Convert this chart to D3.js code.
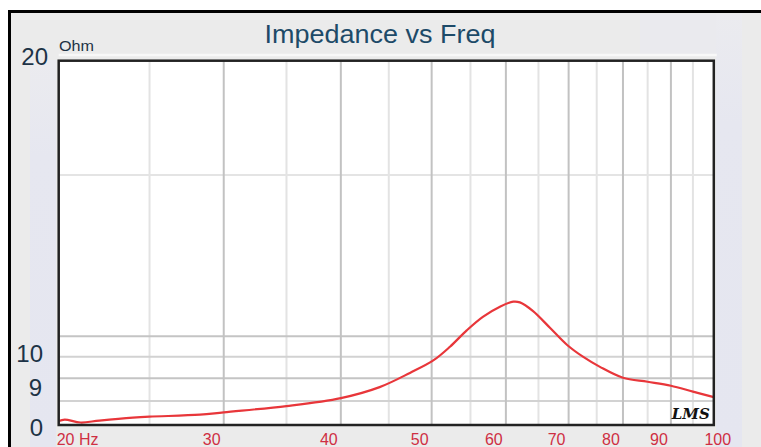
<!DOCTYPE html>
<html>
<head>
<meta charset="utf-8">
<script src="https://cdn.jsdelivr.net/npm/d3@7/dist/d3.min.js"></script>
<style>
  html, body { margin: 0; padding: 0; background: #ffffff; }
  svg { display: block; }
</style>
</head>
<body>
<svg id="chart" width="761" height="447"></svg>
<script>
// ---- data ----
const frequencies = [20, 20.3, 21.1, 22.1, 24, 25, 28.3, 30, 35, 40, 44, 47.4, 50.2, 52.3, 54.5, 56.7, 59.2, 61.1, 62.1, 64.1, 66.9, 69.7, 72.5, 75.6, 80, 85, 90, 95, 100];
const impedance   = [8.08, 8.11, 8.05, 8.09, 8.15, 8.17, 8.21, 8.26, 8.39, 8.56, 8.80, 9.12, 9.41, 9.74, 10.15, 10.50, 10.78, 10.91, 10.89, 10.66, 10.21, 9.79, 9.50, 9.26, 9.01, 8.92, 8.83, 8.70, 8.58];

const xMajorGrid = [30, 40, 50, 60, 70, 80, 90];
const xMinorGrid = [25, 35, 45, 55, 65, 75, 85, 95];
const xTickValues = [20, 30, 40, 50, 60, 70, 80, 90, 100];
const xTickLabels = ["20 Hz", "30", "40", "50", "60", "70", "80", "90", "100"];

const yGridMajor = [10, 9];
const yGridMinor = [9.5, 8.5];
const yGridLight = [15];
const yTickValues = [20, 10, 9, 8];
const yTickLabels = ["20", "10", "9", "0"];

const titleText = "Impedance vs Freq";
const unitText = "Ohm";
const logoText = "LMS";

// ---- drawing ----
const svg = d3.select("#chart");
const W = 761, H = 447;
const plot = { left: 58.7, right: 713.8, top: 60.7, bottom: 425 };

const x = d3.scaleLog().domain([20, 100]).range([plot.left, plot.right]);
const y = d3.scaleLog().domain([8, 20]).range([plot.bottom, plot.top]);

const defs = svg.append("defs");
const lg = defs.append("linearGradient").attr("id", "lav").attr("x1", 0).attr("y1", 0).attr("x2", 0).attr("y2", 1);
lg.append("stop").attr("offset", "0%").attr("stop-color", "#ebebef");
lg.append("stop").attr("offset", "25%").attr("stop-color", "#e6e7f0");
lg.append("stop").attr("offset", "100%").attr("stop-color", "#e5e6f0");

// outer frame
svg.append("rect").attr("x", 9.5).attr("y", 11.5).attr("width", W + 20).attr("height", H + 20)
  .attr("fill", "#ebebeb").attr("stroke", "#000").attr("stroke-width", 3);
svg.append("rect").attr("x", 30).attr("y", 60).attr("width", 26).attr("height", H - 60).attr("fill", "url(#lav)");
svg.append("rect").attr("x", 716).attr("y", 14).attr("width", 26).attr("height", H - 14).attr("fill", "url(#lav)");
svg.append("rect").attr("x", 640).attr("y", 14).attr("width", 76).attr("height", 40).attr("fill", "#e9e9f0").attr("opacity", 0.6);

// light strip above plot
svg.append("line").attr("x1", plot.left).attr("x2", plot.right + 3).attr("y1", 55).attr("y2", 55)
  .attr("stroke", "#f8f8f8").attr("stroke-width", 2.5);

// plot background
svg.append("rect").attr("x", plot.left).attr("y", plot.top)
  .attr("width", plot.right - plot.left).attr("height", plot.bottom - plot.top).attr("fill", "#ffffff");

const grid = svg.append("g");
grid.selectAll("line.xminor").data(xMinorGrid).join("line").attr("class", "xminor")
  .attr("x1", d => x(d)).attr("x2", d => x(d)).attr("y1", plot.top).attr("y2", plot.bottom)
  .attr("stroke", "#e3e3e3").attr("stroke-width", 2);
grid.selectAll("line.ylight").data(yGridLight).join("line").attr("class", "ylight")
  .attr("x1", plot.left).attr("x2", plot.right).attr("y1", d => y(d)).attr("y2", d => y(d))
  .attr("stroke", "#e4e4e4").attr("stroke-width", 2);
grid.selectAll("line.yminor").data(yGridMinor).join("line").attr("class", "yminor")
  .attr("x1", plot.left).attr("x2", plot.right).attr("y1", d => y(d)).attr("y2", d => y(d))
  .attr("stroke", "#d2d2d2").attr("stroke-width", 2);
grid.selectAll("line.ymajor").data(yGridMajor).join("line").attr("class", "ymajor")
  .attr("x1", plot.left).attr("x2", plot.right).attr("y1", d => y(d)).attr("y2", d => y(d))
  .attr("stroke", "#c4c4c4").attr("stroke-width", 2);
grid.selectAll("line.xmajor").data(xMajorGrid).join("line").attr("class", "xmajor")
  .attr("x1", d => x(d)).attr("x2", d => x(d)).attr("y1", plot.top).attr("y2", plot.bottom)
  .attr("stroke", "#c2c2c2").attr("stroke-width", 2);

// curve
const pts = frequencies.map((f, i) => [f, impedance[i]]);
const line = d3.line().x(d => x(d[0])).y(d => y(d[1])).curve(d3.curveCatmullRom.alpha(0.5));
svg.append("path").datum(pts).attr("d", line)
  .attr("fill", "none").attr("stroke", "#e8363a").attr("stroke-width", 2.2).attr("stroke-linejoin", "round");

// plot border
svg.append("rect").attr("x", plot.left).attr("y", plot.top)
  .attr("width", plot.right - plot.left).attr("height", plot.bottom - plot.top)
  .attr("fill", "none").attr("stroke", "#222").attr("stroke-width", 2.5);

// logo
svg.append("text").attr("x", x(100) - 4).attr("y", y(8) - 6).attr("text-anchor", "end")
  .attr("font-family", "DejaVu Serif").attr("font-style", "italic").attr("font-weight", "bold")
  .attr("font-size", 15).attr("fill", "#111").text(logoText);

// title
svg.append("text").attr("x", 380).attr("y", 43).attr("text-anchor", "middle")
  .attr("font-family", "Liberation Sans, Arial, sans-serif").attr("font-size", 25)
  .attr("textLength", 231).attr("lengthAdjust", "spacingAndGlyphs")
  .attr("fill", "#1d4a68").text(titleText);

// unit
svg.append("text").attr("x", 59).attr("y", 51)
  .attr("font-family", "Liberation Sans, Arial, sans-serif").attr("font-size", 14)
  .attr("textLength", 35).attr("lengthAdjust", "spacingAndGlyphs")
  .attr("fill", "#1d3346").text(unitText);

// y tick labels
const yLabelDy = [-4, 17, 9, 2.5];
const yLabelX = [48, 43, 42, 43];
svg.append("g").selectAll("text").data(yTickValues).join("text")
  .attr("x", (d, i) => yLabelX[i]).attr("y", (d, i) => y(d) + yLabelDy[i])
  .attr("dy", "0.36em").attr("text-anchor", "end")
  .attr("font-family", "Liberation Sans, Arial, sans-serif").attr("font-size", 24)
  .attr("fill", "#1d3346").text((d, i) => yTickLabels[i]);

// x tick labels
svg.append("g").selectAll("text").data(xTickValues).join("text")
  .attr("x", (d, i) => i === 0 ? x(d) - 2 : (i === xTickValues.length - 1 ? x(d) + 4 : x(d) - 12))
  .attr("y", 444.5)
  .attr("text-anchor", (d, i) => i === 0 ? "start" : "middle")
  .attr("font-family", "Liberation Sans, Arial, sans-serif").attr("font-size", 16)
  .attr("fill", "#cf2f43").text((d, i) => xTickLabels[i]);
</script>
</body>
</html>
